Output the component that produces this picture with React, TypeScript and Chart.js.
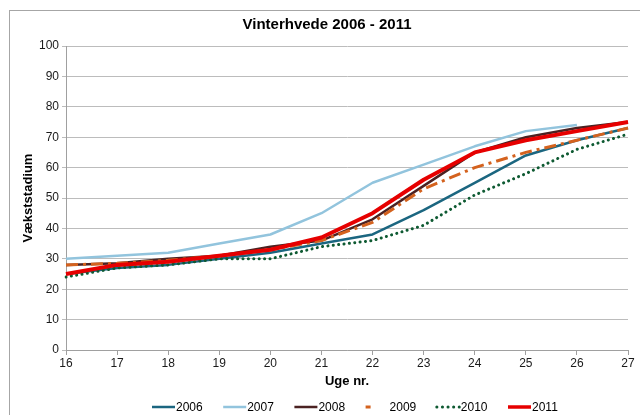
import React, { useEffect, useRef } from "react";
import { Chart, registerables } from "chart.js";

Chart.register(...registerables);

const weeks = ["16", "17", "18", "19", "20", "21", "22", "23", "24", "25", "26", "27"];
const seriesNames = ["2006", "2007", "2008", "2009", "2010", "2011"];
const v2006 = [25, 27, 28, 30, 32, 35, 38, 46, 55, 64, 69, 73];
const v2007 = [30, 31, 32, 35, 38, 45, 55, 61, 67, 72, 74, null];
const v2008 = [28, 28.5, 30, 31, 34, 36, 43, 54, 65, 70, 73, 75];
const v2009 = [28, 28.5, 29.5, 31, 33, 36, 42, 53, 60, 65, 69, 73];
const v2010 = [24, 27, 28, 30, 30, 34, 36, 41, 51, 58, 66, 71];
const v2011 = [25, 28, 29, 31, 33, 37, 45, 56, 65, 69, 72, 75];
const yTicks = [0, 10, 20, 30, 40, 50, 60, 70, 80, 90, 100];

const FONT = "'Liberation Sans', Arial, sans-serif";

const styles = [
  { color: "#1b6680", width: 2.5, dash: [] as number[], cap: "butt", legendDash: [] as number[], order: 5 },
  { color: "#92c4dd", width: 2.5, dash: [], cap: "butt", legendDash: [], order: 4 },
  { color: "#4b2222", width: 2.5, dash: [], cap: "butt", legendDash: [], order: 3 },
  { color: "#d4621e", width: 3, dash: [12, 5, 3, 5], cap: "butt", legendDash: [5, 40], order: 2 },
  { color: "#0e5a32", width: 3, dash: [0.1, 5.3], cap: "round", legendDash: [0.1, 5.5], order: 1 },
  { color: "#e60000", width: 4, dash: [], cap: "butt", legendDash: [], order: 0 },
];

const allValues = [v2006, v2007, v2008, v2009, v2010, v2011];

const framePlugin = {
  id: "frame",
  beforeDraw(chart: any) {
    const ctx = chart.ctx;
    ctx.save();
    ctx.fillStyle = "#ffffff";
    ctx.fillRect(0, 0, chart.width, chart.height);
    ctx.strokeStyle = "#a6a6a6";
    ctx.lineWidth = 1;
    ctx.strokeRect(9.5, 10.5, 700, 500);
    ctx.restore();
  },
  afterDraw(chart: any) {
    const ctx = chart.ctx;
    ctx.save();
    // title
    ctx.fillStyle = "#000";
    ctx.font = `bold 15px ${FONT}`;
    ctx.textAlign = "center";
    ctx.textBaseline = "middle";
    ctx.fillText("Vinterhvede 2006 - 2011", 327, 25);
    // legend
    ctx.font = `12px ${FONT}`;
    ctx.textAlign = "left";
    const y = 407;
    seriesNames.forEach((name, i) => {
      const st = styles[i];
      const x0 = 152 + i * 71.2;
      ctx.beginPath();
      ctx.strokeStyle = st.color;
      ctx.lineWidth = Math.min(st.width, 3.5);
      ctx.lineCap = st.cap as CanvasLineCap;
      ctx.setLineDash(st.legendDash);
      ctx.moveTo(x0, y);
      ctx.lineTo(x0 + 23, y);
      ctx.stroke();
      ctx.setLineDash([]);
      ctx.fillStyle = "#000";
      ctx.fillText(name, x0 + 24, y + 0.5);
    });
    ctx.restore();
  },
};

export default function App() {
  const ref = useRef<HTMLCanvasElement>(null);
  useEffect(() => {
    if (!ref.current) return;
    const chart = new Chart(ref.current, {
      type: "line",
      data: {
        labels: weeks,
        datasets: seriesNames.map((name, i) => ({
          label: name,
          data: allValues[i],
          borderColor: styles[i].color,
          backgroundColor: styles[i].color,
          borderWidth: styles[i].width,
          borderDash: styles[i].dash,
          borderCapStyle: styles[i].cap as any,
          borderJoinStyle: "round" as any,
          pointRadius: 0,
          tension: 0,
          spanGaps: false,
          order: styles[i].order,
        })),
      },
      options: {
        responsive: false,
        animation: false,
        devicePixelRatio: 1,
        layout: { padding: { left: 0, right: 12, top: 46, bottom: 0 } },
        plugins: {
          legend: { display: false },
          title: { display: false },
          tooltip: { enabled: false },
        },
        scales: {
          x: {
            type: "category",
            offset: false,
            afterFit: (s: any) => { s.height = 65; },
            grid: { drawOnChartArea: false, drawTicks: true, tickLength: 5, color: "#a0a0a0" },
            border: { display: true, color: "#a0a0a0", width: 1 },
            ticks: { color: "#1a1a1a", font: { family: FONT, size: 12 }, padding: 1, maxRotation: 0, autoSkip: false },
            title: { display: true, text: "Uge nr.", color: "#000", font: { family: FONT, size: 13, weight: "bold" }, padding: { top: 0, bottom: 26 } },
          },
          y: {
            min: 0,
            max: 100,
            afterFit: (s: any) => { s.width = 66; },
            afterBuildTicks: (s: any) => { s.ticks = yTicks.map((v) => ({ value: v })); },
            grid: { color: "#bcbcbc", drawTicks: true, tickLength: 4 },
            border: { display: true, color: "#a0a0a0", width: 1 },
            ticks: { color: "#1a1a1a", font: { family: FONT, size: 12 }, padding: 3 },
            title: { display: true, text: "Vækststadium", color: "#000", font: { family: FONT, size: 13, weight: "bold" }, padding: { top: 21, bottom: 0 } },
          },
        },
      },
      plugins: [framePlugin],
    });
    return () => chart.destroy();
  }, []);
  return (
    <div style={{ position: "absolute", left: 0, top: 0 }}>
      <canvas ref={ref} width={640} height={415} style={{ display: "block" }} />
    </div>
  );
}
